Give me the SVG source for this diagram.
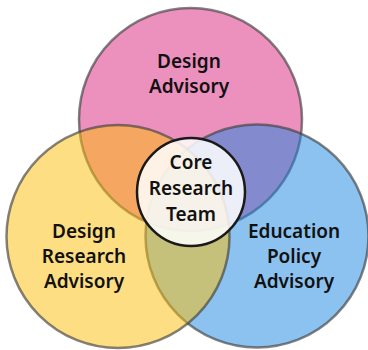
<svg xmlns="http://www.w3.org/2000/svg" width="368" height="350" viewBox="0 0 368 350">
  <style>
    .set { fill-opacity: 0.5; stroke: #404040; stroke-opacity: 0.65; stroke-width: 2.5; }
    .lbl { font-family: "Noto Sans", "Open Sans", sans-serif; font-weight: 600; font-size: 19px; fill: #111; text-anchor: middle; }
    .core { fill: #ffffff; fill-opacity: 0.85; stroke: #1a1a1a; stroke-width: 2.5; }
  </style>
  <rect width="368" height="350" fill="#ffffff"/>
  <g id="design-advisory">
    <circle class="set" cx="190.5" cy="119.5" r="111.5" fill="#D9217B"/>
  </g>
  <g id="education-policy-advisory">
    <circle class="set" cx="257" cy="236" r="111.5" fill="#1985DF"/>
  </g>
  <g id="design-research-advisory">
    <circle class="set" cx="118" cy="236.5" r="111.5" fill="#FDBD05"/>
  </g>
  <g id="core-research-team">
    <circle class="core" cx="191" cy="192" r="54"/>
    <text class="lbl" x="191" y="169">Core</text>
    <text class="lbl" x="191" y="195">Research</text>
    <text class="lbl" x="191" y="221">Team</text>
  </g>
  <g id="labels">
    <text class="lbl" x="189" y="68">Design</text>
    <text class="lbl" x="189" y="93">Advisory</text>
    <text class="lbl" x="84" y="238">Design</text>
    <text class="lbl" x="84" y="263">Research</text>
    <text class="lbl" x="84" y="288">Advisory</text>
    <text class="lbl" x="294" y="238">Education</text>
    <text class="lbl" x="294" y="263">Policy</text>
    <text class="lbl" x="294" y="288">Advisory</text>
  </g>
  <g id="connectors"></g>
</svg>
